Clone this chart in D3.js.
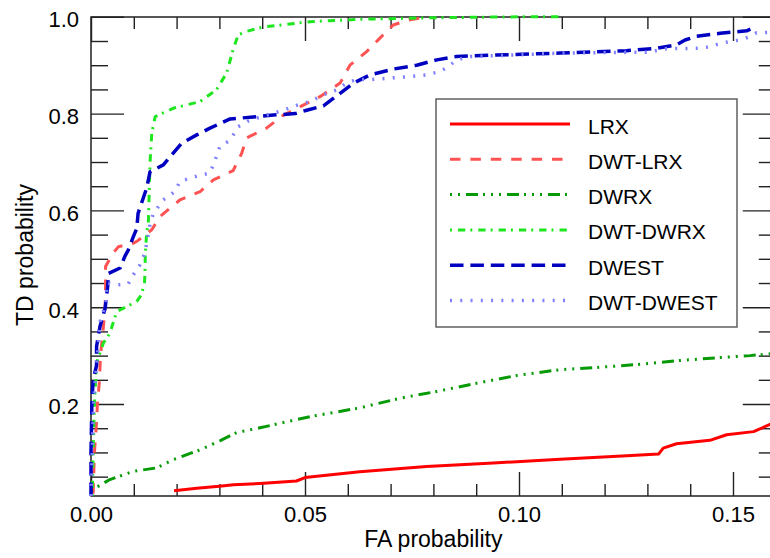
<!DOCTYPE html>
<html>
<head>
<meta charset="utf-8">
<script src="https://cdn.jsdelivr.net/npm/d3@7"></script>
<style>
  body { margin: 0; background: #fff; }
  svg { display: block; }
  text { font-family: "Liberation Sans", Arial, Helvetica, sans-serif; fill: #000; }
</style>
</head>
<body>
<svg id="chart" width="770" height="558"></svg>
<script>
// Axis ticks and labels
const faTicks = [0, 0.05, 0.10, 0.15];
const faTickLabels = ["0.00", "0.05", "0.10", "0.15"];
const tdTicks = [0.2, 0.4, 0.6, 0.8, 1.0];
const tdTickLabels = ["0.2", "0.4", "0.6", "0.8", "1.0"];

// Series names in legend order
const seriesNames = ["LRX", "DWT-LRX", "DWRX", "DWT-DWRX", "DWEST", "DWT-DWEST"];

// ROC curves: [FA probability, TD probability]
const LRX = [[0.0194,0.021],[0.0247,0.026],[0.030,0.030],[0.0333,0.033],[0.0395,0.036],[0.048,0.041],[0.050,0.048],
  [0.0628,0.060],[0.0784,0.071],[0.094,0.078],[0.1096,0.086],[0.1252,0.093],[0.1326,0.0966],[0.1337,0.109],
  [0.1368,0.118],[0.1446,0.125],[0.1485,0.1365],[0.1548,0.143],[0.160,0.163]];

const DWT_LRX = [[0.0005,0.015],[0.0008,0.10],[0.0012,0.15],[0.0015,0.20],[0.0020,0.25],[0.0022,0.30],[0.0028,0.35],
  [0.0033,0.40],[0.0034,0.443],[0.0034,0.484],[0.0052,0.512],[0.0064,0.525],[0.0099,0.532],[0.011,0.538],
  [0.0142,0.56],[0.0161,0.587],[0.0208,0.622],[0.0255,0.639],[0.0286,0.663],[0.0332,0.682],[0.0352,0.718],
  [0.0364,0.75],[0.041,0.77],[0.045,0.797],[0.0504,0.821],[0.0535,0.835],[0.0582,0.863],[0.0605,0.90],
  [0.0644,0.928],[0.0675,0.956],[0.0706,0.983],[0.0745,0.994],[0.0769,0.997],[0.079,1.0]];

const DWRX = [[0.0,0.02],[0.0009,0.026],[0.0044,0.044],[0.0099,0.061],[0.0153,0.068],[0.0192,0.085],[0.0255,0.1055],
  [0.0301,0.124],[0.034,0.141],[0.0395,0.151],[0.0512,0.174],[0.0628,0.192],[0.0722,0.212],[0.0808,0.226],
  [0.0901,0.243],[0.0995,0.259],[0.1096,0.271],[0.1189,0.276],[0.1283,0.282],[0.1376,0.290],[0.147,0.296],
  [0.154,0.300],[0.160,0.305]];

const DWT_DWRX = [[0.0003,0.01],[0.0005,0.10],[0.0008,0.20],[0.0013,0.285],[0.0029,0.326],[0.0044,0.346],[0.006,0.391],
  [0.0083,0.401],[0.0107,0.412],[0.0118,0.426],[0.0125,0.45],[0.0126,0.47],[0.0127,0.512],[0.013,0.553],
  [0.0134,0.574],[0.0138,0.70],[0.0142,0.76],[0.015,0.794],[0.0192,0.811],[0.0255,0.825],[0.0293,0.849],
  [0.0317,0.884],[0.0332,0.932],[0.0344,0.963],[0.0364,0.97],[0.0403,0.979],[0.0512,0.99],[0.0636,0.995],
  [0.079,0.998],[0.100,1.0],[0.1095,1.0]];

const DWEST = [[0.0,0.01],[0.0,0.10],[0.0002,0.20],[0.0005,0.25],[0.0013,0.28],[0.0013,0.319],[0.0021,0.36],
  [0.0033,0.398],[0.0039,0.443],[0.0041,0.47],[0.0068,0.481],[0.0079,0.505],[0.0087,0.518],[0.0099,0.546],
  [0.0107,0.563],[0.011,0.594],[0.013,0.646],[0.0138,0.68],[0.0169,0.694],[0.0185,0.711],[0.0212,0.739],
  [0.0247,0.756],[0.0278,0.77],[0.0325,0.789],[0.0379,0.793],[0.0426,0.797],[0.0477,0.80],[0.0504,0.807],
  [0.0543,0.816],[0.0582,0.842],[0.0613,0.863],[0.0652,0.88],[0.0706,0.892],[0.0761,0.90],[0.0808,0.911],
  [0.0854,0.918],[0.0948,0.921],[0.1096,0.925],[0.1251,0.93],[0.1322,0.935],[0.1368,0.942],[0.1388,0.952],
  [0.1415,0.96],[0.147,0.966],[0.1532,0.971],[0.1555,0.98]];

const DWT_DWEST = [[0.0,0.01],[0.0003,0.10],[0.0006,0.20],[0.001,0.25],[0.0017,0.319],[0.0021,0.37],[0.0035,0.408],
  [0.0037,0.45],[0.006,0.446],[0.0087,0.448],[0.0099,0.467],[0.0114,0.487],[0.0126,0.512],[0.013,0.532],
  [0.0138,0.572],[0.0146,0.594],[0.0169,0.622],[0.0196,0.639],[0.0208,0.66],[0.0255,0.673],[0.0278,0.677],
  [0.029,0.704],[0.0301,0.732],[0.0325,0.745],[0.0344,0.773],[0.0368,0.785],[0.041,0.797],[0.045,0.807],
  [0.048,0.817],[0.0512,0.825],[0.0543,0.839],[0.0574,0.849],[0.0597,0.863],[0.0621,0.871],[0.0652,0.870],
  [0.0691,0.873],[0.0738,0.876],[0.0784,0.88],[0.0815,0.887],[0.0835,0.897],[0.0854,0.911],[0.0886,0.918],
  [0.0987,0.921],[0.1096,0.925],[0.130,0.927],[0.1345,0.934],[0.1423,0.935],[0.1446,0.938],[0.147,0.945],
  [0.1493,0.949],[0.1516,0.952],[0.1539,0.959],[0.1555,0.967],[0.160,0.968]];

const seriesData = [LRX, DWT_LRX, DWRX, DWT_DWRX, DWEST, DWT_DWEST];

// Stroke styles per series
const seriesStyles = [
  { color: "#ff0000", width: 3,   dash: null,                 offset: 0 },
  { color: "#ff5252", width: 3,   dash: "10.5,9.9",           offset: 0 },
  { color: "#069a06", width: 3,   dash: "12,5,2,6,2,6,2,6",   offset: 25 },
  { color: "#1ee61e", width: 3,   dash: "7.3,5,2,6",          offset: 12.3 },
  { color: "#0000c0", width: 3.5, dash: "13.5,6.9",           offset: 0 },
  { color: "#8080ff", width: 3.5, dash: "2,8.27",             offset: 0 }
];

const svg = d3.select("#chart");

const plotLeft = 91, plotRight = 775.8, plotTop = 17, plotBottom = 496;
const x = d3.scaleLinear().domain([0, 0.16]).range([plotLeft, plotRight]);
const y = d3.scaleLinear().domain([0.01, 1]).range([plotBottom, 16.8]);

const minorFA = d3.range(1, 16).map(i => i / 100).filter(v => Math.abs(v * 20 - Math.round(v * 20)) > 1e-9);
const minorTD = d3.range(1, 20).map(i => i / 20).filter(v => Math.abs(v * 5 - Math.round(v * 5)) > 1e-9);

// Frame
svg.append("rect")
  .attr("x", plotLeft).attr("y", plotTop)
  .attr("width", plotRight - plotLeft).attr("height", plotBottom - plotTop)
  .attr("fill", "none").attr("stroke", "#111").attr("stroke-width", 1.4);

function styleAxis(g) {
  g.select(".domain").remove();
  g.selectAll("line").attr("stroke", "#222").attr("stroke-width", 1.4);
  g.selectAll("text").attr("font-size", 22).attr("font-family", null).attr("fill", "#000");
}

// Bottom axis (labelled) and top axis
svg.append("g").attr("transform", `translate(0,${plotBottom})`)
  .call(d3.axisBottom(x).tickValues(faTicks).tickFormat((d, i) => faTickLabels[i])
    .tickSizeInner(-24).tickSizeOuter(0).tickPadding(10.4))
  .call(styleAxis);
svg.append("g").attr("transform", `translate(0,${plotBottom})`)
  .call(d3.axisBottom(x).tickValues(minorFA).tickFormat("").tickSizeInner(-12).tickSizeOuter(0))
  .call(styleAxis);
svg.append("g").attr("transform", `translate(0,${plotTop})`)
  .call(d3.axisTop(x).tickValues(faTicks).tickFormat("").tickSizeInner(-24).tickSizeOuter(0))
  .call(styleAxis);
svg.append("g").attr("transform", `translate(0,${plotTop})`)
  .call(d3.axisTop(x).tickValues(minorFA).tickFormat("").tickSizeInner(-12).tickSizeOuter(0))
  .call(styleAxis);

// Left axis (labelled) and right axis
svg.append("g").attr("transform", `translate(${plotLeft},0)`)
  .call(d3.axisLeft(y).tickValues(tdTicks).tickFormat((d, i) => tdTickLabels[i])
    .tickSizeInner(-33).tickSizeOuter(0).tickPadding(12))
  .call(styleAxis)
  .call(g => g.selectAll("text").attr("dy", "0.45em"));
svg.append("g").attr("transform", `translate(${plotLeft},0)`)
  .call(d3.axisLeft(y).tickValues(minorTD).tickFormat("").tickSizeInner(-17).tickSizeOuter(0))
  .call(styleAxis);
svg.append("g").attr("transform", `translate(${plotRight},0)`)
  .call(d3.axisRight(y).tickValues(tdTicks).tickFormat("").tickSizeInner(-33).tickSizeOuter(0))
  .call(styleAxis);
svg.append("g").attr("transform", `translate(${plotRight},0)`)
  .call(d3.axisRight(y).tickValues(minorTD).tickFormat("").tickSizeInner(-17).tickSizeOuter(0))
  .call(styleAxis);

// Axis titles
svg.append("text")
  .attr("x", (plotLeft + plotRight) / 2).attr("y", 547)
  .attr("text-anchor", "middle").attr("font-size", 23)
  .text("FA probability");
svg.append("text")
  .attr("transform", "translate(33,255) rotate(-90)")
  .attr("text-anchor", "middle").attr("font-size", 23)
  .text("TD probability");

// Curves
const line = d3.line().x(d => x(d[0])).y(d => y(d[1]));
seriesData.forEach((data, i) => {
  const s = seriesStyles[i];
  svg.append("path")
    .datum(data)
    .attr("d", line)
    .attr("fill", "none")
    .attr("stroke", s.color)
    .attr("stroke-width", s.width)
    .attr("stroke-linejoin", "round")
    .attr("stroke-dasharray", s.dash)
    .attr("stroke-dashoffset", s.offset);
});

// Legend
const legend = svg.append("g");
legend.append("rect")
  .attr("x", 436).attr("y", 99).attr("width", 301).attr("height", 228)
  .attr("fill", "#fff").attr("stroke", "#555").attr("stroke-width", 1.4);
seriesNames.forEach((name, i) => {
  const s = seriesStyles[i];
  const yy = 124 + i * 35.3;
  legend.append("line")
    .attr("x1", 450).attr("x2", 570).attr("y1", yy).attr("y2", yy)
    .attr("stroke", s.color).attr("stroke-width", s.width)
    .attr("stroke-dasharray", s.dash).attr("stroke-dashoffset", s.offset);
  legend.append("text")
    .attr("x", 588).attr("y", yy + 9.5)
    .attr("font-size", 21)
    .text(name);
});
</script>
</body>
</html>
